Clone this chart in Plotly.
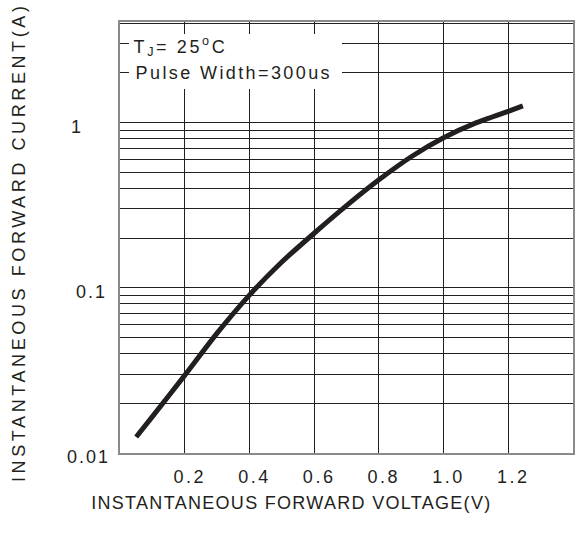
import plotly.graph_objects as go
import math
import json

# Curve data
voltage = [0.05, 0.10, 0.20, 0.30, 0.40, 0.50, 0.60, 0.70, 0.80, 0.90, 1.00, 1.10, 1.20, 1.245]
current = [0.0125, 0.0166, 0.0295, 0.0531, 0.0903, 0.1432, 0.2138, 0.314, 0.45, 0.621, 0.809, 0.995, 1.17, 1.26]

x_ticks = [0.2, 0.4, 0.6, 0.8, 1.0, 1.2]
x_tick_labels = ["0.2", "0.4", "0.6", "0.8", "1.0", "1.2"]
y_grid = [0.01, 0.02, 0.03, 0.04, 0.05, 0.06, 0.07, 0.08, 0.09,
          0.1, 0.2, 0.3, 0.4, 0.5, 0.6, 0.7, 0.8, 0.9,
          1, 2, 3, 4]
y_label_vals = [0.01, 0.1, 1]
y_label_text = ["0.01", "0.1", "1"]
y_label_center_px = [88, 91, 76]

FONT = "Liberation Sans, Arial, sans-serif"
TXT = "#231f20"
W, H = 579, 545
L, R, T, B = 120, 4, 22, 92
pw = W - L - R
ph = H - T - B


def px_x(p):
    return (p - L) / pw


def px_y(p):
    return (H - B - p) / ph


fig = go.Figure()
fig.add_trace(go.Scatter(
    x=voltage, y=current, mode="lines",
    line=dict(color=TXT, width=5, shape="spline", smoothing=0.5),
    showlegend=False, hoverinfo="skip",
))

annotations = []
for v, t, cp in zip(y_label_vals, y_label_text, y_label_center_px):
    annotations.append(dict(
        x=px_x(cp), xref="paper", y=math.log10(v), yref="y",
        text=t, showarrow=False, xanchor="center", yanchor="middle", yshift=-4,
        font=dict(family=FONT, size=18, color=TXT),
    ))

annotations += [
    dict(x=px_x(181), xref="paper", y=px_y(47), yref="paper",
         text="T<sub>J</sub>= 25<sup>o</sup>C", showarrow=False, xanchor="center", yanchor="middle",
         font=dict(family=FONT, size=18, color=TXT)),
    dict(x=px_x(235), xref="paper", y=px_y(73), yref="paper",
         text="Pulse Width=300us", showarrow=False, xanchor="center", yanchor="middle",
         font=dict(family=FONT, size=18, color=TXT)),
    dict(x=px_x(292), xref="paper", y=px_y(503), yref="paper",
         text="INSTANTANEOUS FORWARD VOLTAGE(V)", showarrow=False, xanchor="center", yanchor="middle",
         font=dict(family=FONT, size=18, color=TXT)),
    dict(x=px_x(19), xref="paper", y=px_y(242), yref="paper",
         text="INSTANTANEOUS FORWARD CURRENT(A)", showarrow=False, xanchor="center", yanchor="middle",
         textangle=-90, font=dict(family=FONT, size=18, color=TXT)),
]

shapes = [dict(
    type="rect", xref="paper", yref="paper",
    x0=px_x(129), x1=px_x(343), y0=px_y(89), y1=px_y(34),
    fillcolor="white", line=dict(width=0), layer="above",
)]

fig.update_layout(
    width=W, height=H,
    margin=dict(l=L, r=R, t=T, b=B),
    paper_bgcolor="white", plot_bgcolor="white",
    annotations=annotations, shapes=shapes,
    xaxis=dict(
        range=[0, 1.4], tickvals=x_ticks, ticktext=x_tick_labels,
        showgrid=True, gridcolor=TXT, gridwidth=1,
        showline=True, linecolor="#8a8a8a", linewidth=2, mirror=True,
        zeroline=False, ticks="", ticklabelstandoff=6, ticklabelshift=5,
        tickfont=dict(family=FONT, size=18, color=TXT),
    ),
    yaxis=dict(
        type="log", range=[math.log10(0.01), math.log10(4.06)],
        tickvals=y_grid, showticklabels=False,
        showgrid=True, gridcolor=TXT, gridwidth=1,
        showline=True, linecolor="#8a8a8a", linewidth=2, mirror=True,
        zeroline=False, ticks="",
    ),
)

spacing = {
    "INSTANTANEOUS FORWARD CURRENT(A)": 3.6,
    "INSTANTANEOUS FORWARD VOLTAGE(V)": 1.3,
    "Pulse Width=300us": 2.4,
    "TJ= 25oC": 2.6,
    "0.2": 2.5, "0.4": 2.5, "0.6": 2.5, "0.8": 2.5, "1.0": 2.5, "1.2": 2.5,
    "0.01": 2.0, "0.1": 2.0, "1": 0,
}

post = """
document.body.style.margin = '0';
var gd = document.getElementById('{plot_id}');
var SP = %s;
function applySpacing() {
  gd.querySelectorAll('text').forEach(function(t) {
    var k = (t.textContent || '').replace(/[\\u200b\\u00a0]/g, function(c){ return c === '\\u00a0' ? ' ' : ''; }).trim();
    if (Object.prototype.hasOwnProperty.call(SP, k)) {
      t.style.letterSpacing = SP[k] + 'px';
    }
  });
}
applySpacing();
if (gd.on) { gd.on('plotly_afterplot', applySpacing); }
setTimeout(applySpacing, 30);
""" % json.dumps(spacing)

fig.write_html("out.html", post_script=post, config={"displayModeBar": False})
